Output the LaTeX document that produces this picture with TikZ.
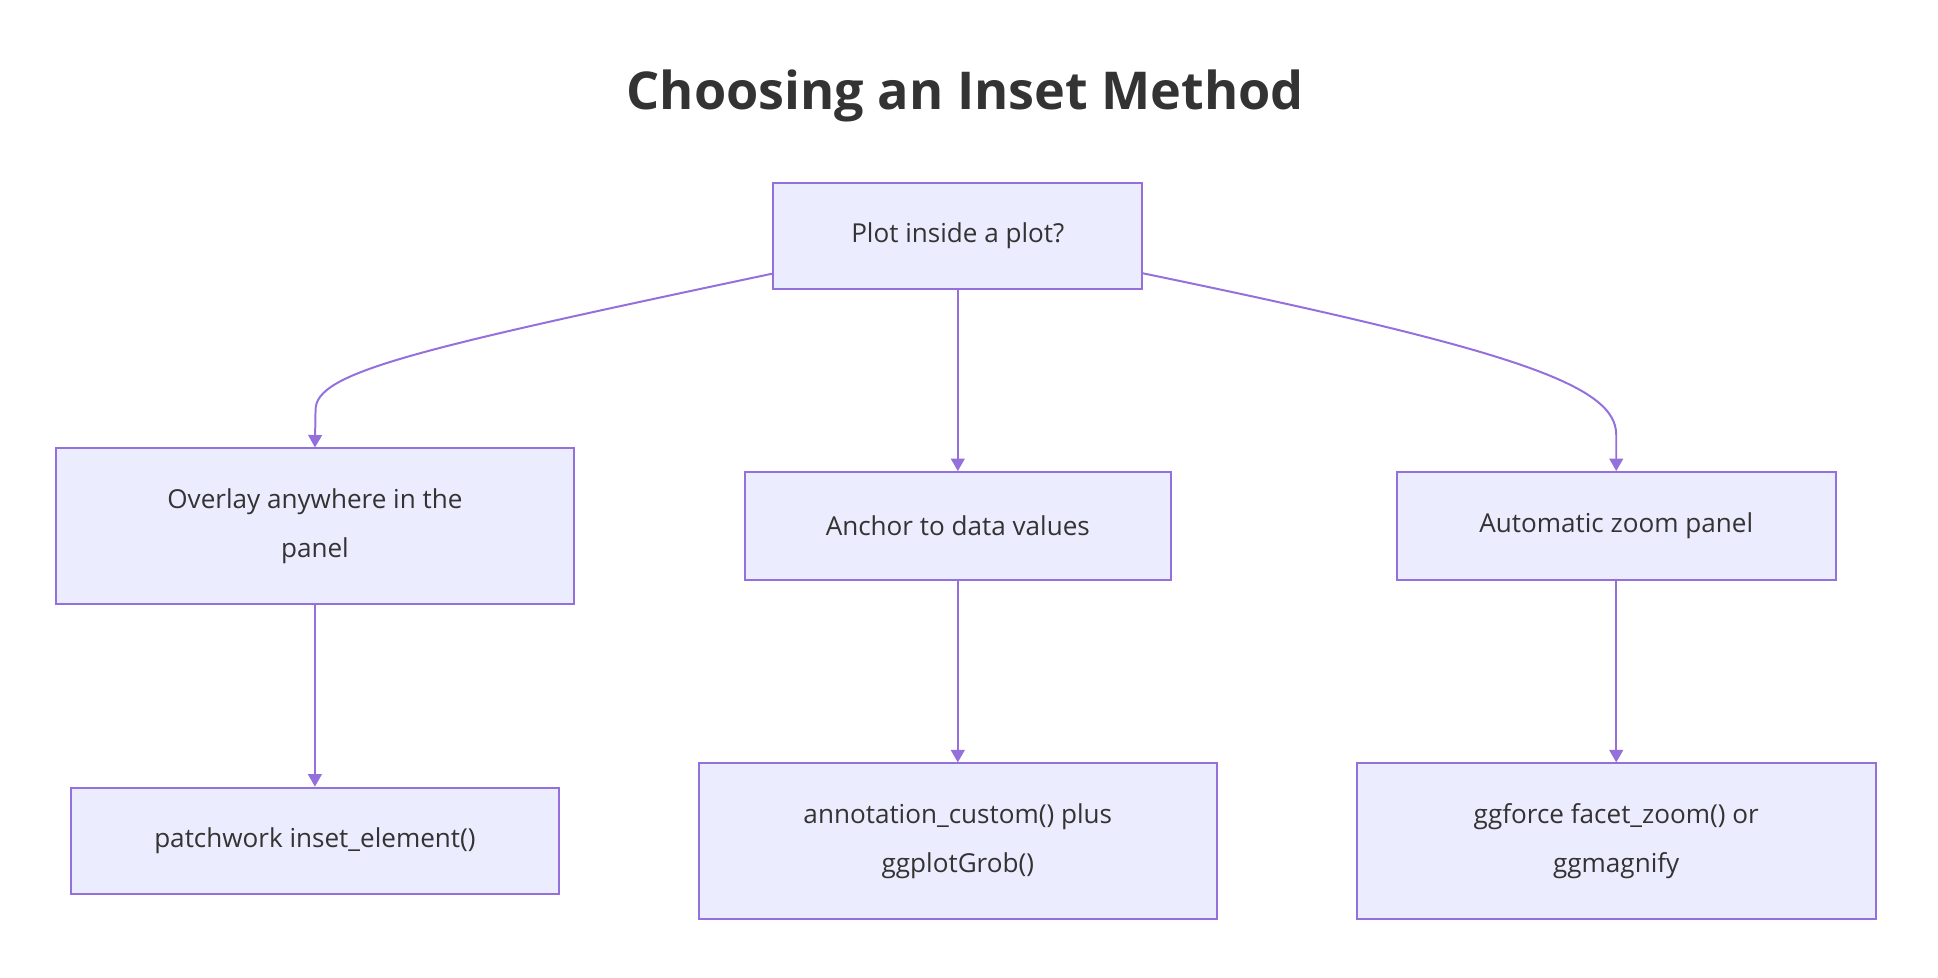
\documentclass[tikz,border=0pt]{standalone}
\usepackage{fontspec}
\setmainfont{Open Sans}
\usetikzlibrary{arrows.meta}
\definecolor{bx}{HTML}{ECECFF}
\definecolor{bd}{HTML}{9370DB}
\definecolor{tx}{HTML}{333333}
\begin{document}
\begin{tikzpicture}[x=0.5pt,y=-0.5pt,
 box/.style={draw=bd,fill=bx,line width=0.8pt,text=tx,font=\fontsize{10.5}{19.5}\selectfont,align=center,inner sep=0pt},
 ar/.style={draw=bd,line width=0.8pt,-{Triangle[length=5pt,width=5.5pt]}}]
\useasboundingbox (0,0) rectangle (1560,787);
\node[text=tx,font=\fontsize{21}{25}\selectfont\bfseries] (t) at (777,77) {Choosing an Inset Method};
\node[box,minimum width=148.5pt,minimum height=43pt] (A) at (771,190) {Plot inside a plot?};
\node[box,minimum width=208.5pt,minimum height=62.5pt] (B) at (253.5,423.5) {Overlay anywhere in the\\panel};
\node[box,minimum width=171.5pt,minimum height=43.5pt] (C) at (771,423.5) {Anchor to data values};
\node[box,minimum width=176.5pt,minimum height=43.5pt] (D) at (1301,423.5) {Automatic zoom panel};
\node[box,minimum width=196.5pt,minimum height=43pt] (E) at (253.5,677) {patchwork inset\_element()};
\node[box,minimum width=208.5pt,minimum height=62.5pt] (F) at (771,677) {annotation\_custom() plus\\ggplotGrob()};
\node[box,minimum width=209pt,minimum height=62.5pt] (G) at (1301,677) {ggforce facet\_zoom() or\\ggmagnify};
\coordinate (a1) at (623,220);
\coordinate (a2) at (920,220);
\draw[ar] (a1) .. controls (330,282) and (254,300) .. (254,330) -- (B.north);
\draw[ar] (a2) .. controls (1220,282) and (1301,310) .. (1301,350) -- (D.north);
\draw[ar] (A) -- (C);
\draw[ar] (B) -- (E);
\draw[ar] (C) -- (F);
\draw[ar] (D) -- (G);
\end{tikzpicture}
\end{document}
